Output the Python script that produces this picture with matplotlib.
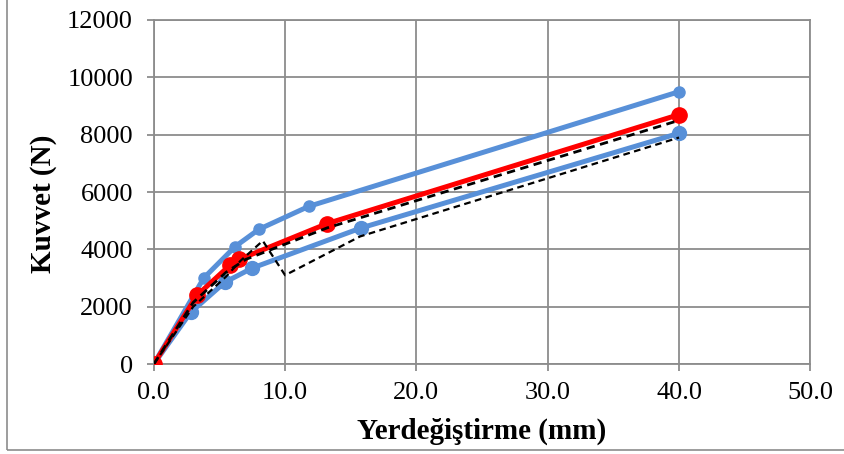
import matplotlib
matplotlib.use("Agg")
import matplotlib.pyplot as plt
from matplotlib.patches import Rectangle

# load-displacement curves
upper_x = [0.0, 3.8, 6.2, 8.0, 11.8, 40.0]
upper_y = [0, 3000, 4100, 4700, 5500, 9500]

red_x = [0.0, 3.3, 5.8, 6.5, 13.2, 40.0]
red_y = [0, 2400, 3450, 3650, 4900, 8700]

lower_x = [0.0, 2.8, 5.4, 7.5, 15.8, 40.0]
lower_y = [0, 1800, 2850, 3350, 4750, 8050]

dash1_x = [0.0, 3.0, 5.5, 7.0, 13.2, 40.0]
dash1_y = [0, 2150, 3200, 3650, 4750, 8500]

dash2_x = [0.0, 3.0, 5.5, 6.6, 8.3, 10.0, 15.7, 40.0]
dash2_y = [0, 2000, 3050, 3600, 4300, 3100, 4450, 7900]

xticks = [0, 10, 20, 30, 40, 50]
yticks = [0, 2000, 4000, 6000, 8000, 10000, 12000]

plt.rcParams['font.family'] = ['Liberation Serif', 'DejaVu Serif']

blue = '#5890D8'
red = '#FF0000'
grid_c = '#8C8C8C'

fig = plt.figure(figsize=(8.45, 4.54), dpi=100)
ax = fig.add_axes([0.182, 0.198, 0.777, 0.758])

ax.plot(upper_x, upper_y, color=blue, lw=3.6, marker='o', ms=8, zorder=3)
ax.plot(lower_x, lower_y, color=blue, lw=3.6, marker='o', ms=10, zorder=3)
ax.plot(red_x, red_y, color=red, lw=3.6, marker='o', ms=11, zorder=4)
ax.plot(dash1_x, dash1_y, color='black', lw=2.0, ls=(0, (3, 2)), zorder=5)
ax.plot(dash2_x, dash2_y, color='black', lw=1.6, ls=(0, (3, 2)), zorder=5)

ax.set_xlim(0, 50)
ax.set_ylim(0, 12000)
ax.set_xticks(xticks)
ax.set_xticklabels([f'{v:.1f}' for v in xticks])
ax.set_yticks(yticks)
ax.grid(True, color=grid_c, lw=1.3)
ax.set_axisbelow(True)
for s in ax.spines.values():
    s.set_color(grid_c)
    s.set_linewidth(1.3)
ax.tick_params(axis='both', colors=grid_c, labelcolor='black', labelsize=19,
               length=5, width=1.3, direction='out')
ax.tick_params(axis='x', pad=8)
ax.tick_params(axis='y', pad=10)

ax.set_xlabel('Yerdeğiştirme (mm)', fontsize=21, fontweight='bold')
ax.set_ylabel('Kuvvet (N)', fontsize=21, fontweight='bold')
ax.xaxis.set_label_coords(0.5, -0.155)
ax.yaxis.set_label_coords(-0.148, 0.465)

# outer chart border
fig.patches.append(Rectangle((7 / 845, 4 / 454), 1.0, 1.0, transform=fig.transFigure,
                             fill=False, edgecolor='#8C8C8C', lw=1.2))

fig.savefig('out.png', dpi=100)
